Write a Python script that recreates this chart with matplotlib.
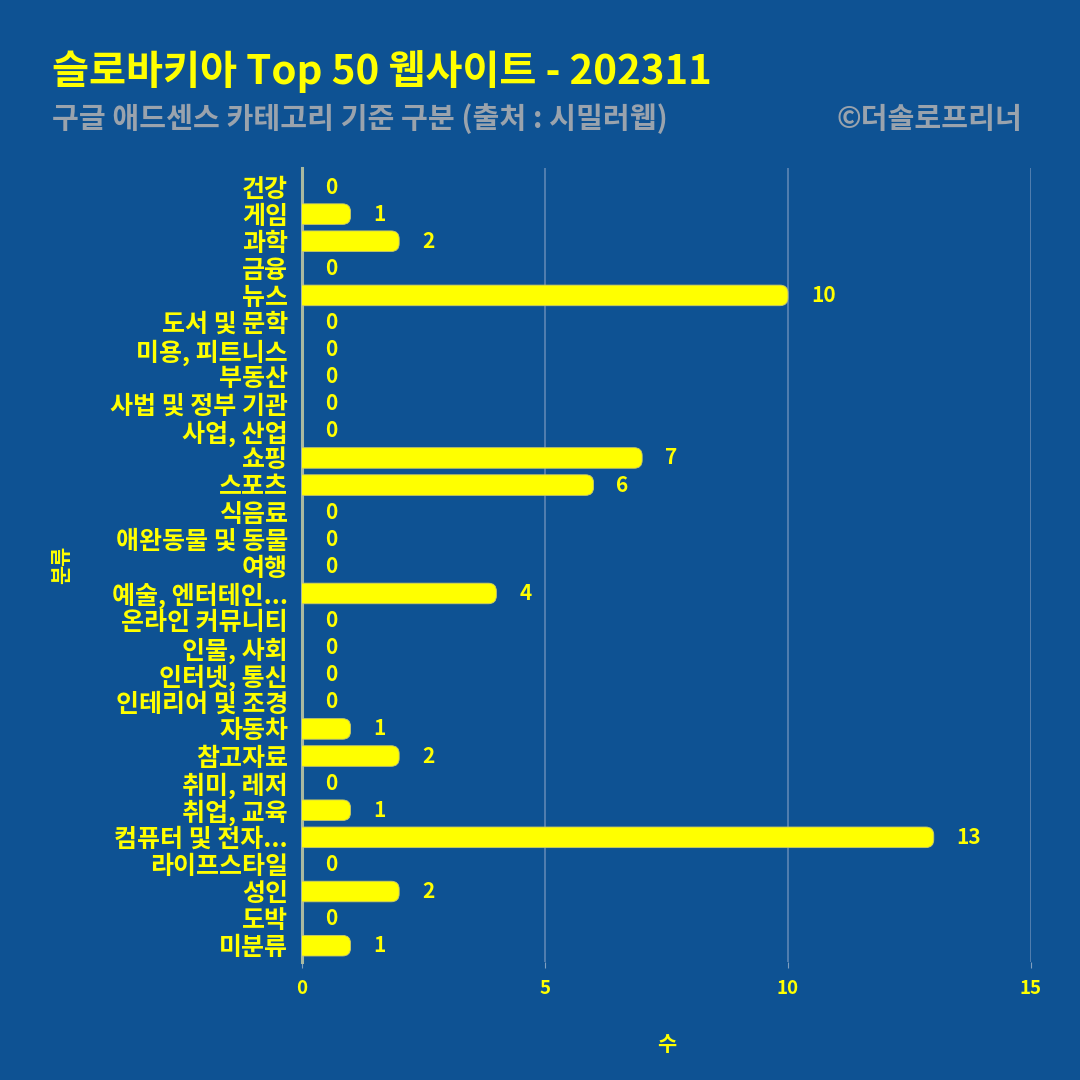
import matplotlib
matplotlib.use("Agg")
import matplotlib.pyplot as plt
from matplotlib.patches import FancyBboxPatch

plt.rcParams['font.family'] = ['Noto Sans CJK KR', 'DejaVu Sans']

categories = ["건강", "게임", "과학", "금융", "뉴스", "도서 및 문학", "미용, 피트니스", "부동산",
              "사법 및 정부 기관", "사업, 산업", "쇼핑", "스포츠", "식음료", "애완동물 및 동물", "여행",
              "예술, 엔터테인...", "온라인 커뮤니티", "인물, 사회", "인터넷, 통신", "인테리어 및 조경",
              "자동차", "참고자료", "취미, 레저", "취업, 교육", "컴퓨터 및 전자...", "라이프스타일",
              "성인", "도박", "미분류"]
counts = [0, 1, 2, 0, 10, 0, 0, 0, 0, 0, 7, 6, 0, 0, 0, 4, 0, 0, 0, 0, 1, 2, 0, 1, 13, 0, 2, 0, 1]
xticks = [0, 5, 10, 15]

title = "슬로바키아 Top 50 웹사이트 - 202311"
subtitle = "구글 애드센스 카테고리 기준 구분 (출처 : 시밀러웹)"
credit = "©더솔로프리너"

BG = "#0E5293"
YEL = "#FFFF00"
GRAY = "#9AA3AD"

fig = plt.figure(figsize=(10.8, 10.8), dpi=100)
fig.patch.set_facecolor(BG)
ax = fig.add_axes([0.2796, 0.1093, 0.6750, 0.7351])
ax.set_facecolor(BG)

y = list(range(len(categories)))
bars = ax.barh(y, counts, height=0.76, color=YEL, zorder=3)

# rounded right ends
ax.set_xlim(0, 15)
ax.set_ylim(28.6, -0.7)
fig.canvas.draw()
bb = ax.get_window_extent()
px_x = bb.width / 15.0
px_y = bb.height / 29.3
for r in list(bars.patches):
    w = r.get_width()
    if w <= 0:
        r.set_visible(False)
        continue
    x0, y0, h = r.get_x(), r.get_y(), r.get_height()
    rad = 8.0 / px_x
    p = FancyBboxPatch((x0 - 0.5, y0), w + 0.5, h,
                       boxstyle=f"round,pad=0,rounding_size={rad}",
                       mutation_aspect=px_x / px_y,
                       facecolor=YEL, edgecolor="#C8C86A", linewidth=0.6, zorder=3)
    ax.add_patch(p)
    r.set_visible(False)

for yi, v in zip(y, counts):
    ax.annotate(str(v), (v, yi), xytext=(16.5, 0), textcoords="offset points",
                ha="left", va="center", color=YEL, fontsize=15, fontweight="bold",
                zorder=4)

ax.set_yticks(y)
ax.set_yticklabels(categories, color=YEL, fontsize=18, fontweight="bold")
ax.set_xticks(xticks)
ax.set_xticklabels([str(t) for t in xticks], color=YEL, fontsize=13.5, fontweight="bold")
ax.tick_params(axis="y", length=0, pad=10)
ax.tick_params(axis="x", length=4, color="#7F9FC0", pad=8)

for s in ["top", "right", "bottom"]:
    ax.spines[s].set_visible(False)
ax.spines["left"].set_color("#A9B9A0")
ax.spines["left"].set_linewidth(2.2)
ax.spines["left"].set_zorder(2)

ax.grid(axis="x", color="#5E86B4", linewidth=1.2, zorder=1)
ax.grid(axis="y", visible=False)

ax.set_xlabel("수", color=YEL, fontsize=15, fontweight="bold", labelpad=26)
ax.set_ylabel("분류", color=YEL, fontsize=15, fontweight="bold")
ax.yaxis.set_label_coords(-0.315, 0.5)

fig.text(0.048, 0.934, title, color=YEL, fontsize=29, fontweight="bold", ha="left", va="center")
fig.text(0.048, 0.890, subtitle, color=GRAY, fontsize=21, fontweight="bold", ha="left", va="center")
fig.text(0.947, 0.890, credit, color=GRAY, fontsize=21, fontweight="bold", ha="right", va="center")

fig.savefig("out.png", dpi=100, facecolor=BG)
